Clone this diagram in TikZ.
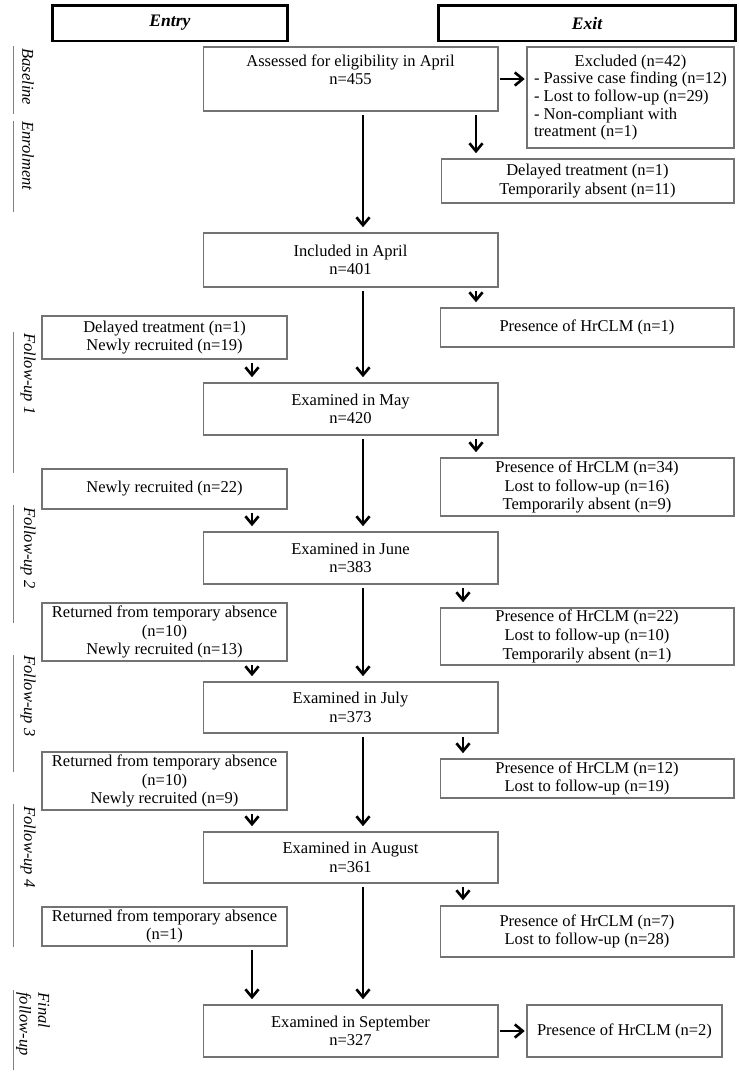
\documentclass[tikz,border=0pt]{standalone}
\usepackage{fontspec}
\usepackage{calc}
\setmainfont{Liberation Serif}
\usetikzlibrary{arrows.meta}
\newcommand{\boxsize}{\fontsize{9.4}{10.6}\selectfont}
\tikzset{
  stage/.style = {rectangle, draw=black!55, line width=0.6pt, align=center, inner sep=1pt, font=\boxsize, minimum width=5.9cm},
  inbox/.style = {stage, minimum width=4.9cm},
  outbox/.style = {stage, minimum width=5.88cm},
  header/.style = {rectangle, draw, line width=1.7pt, font=\fontsize{10}{12}\selectfont\bfseries\itshape, minimum height=0.72cm},
  phase/.style = {rotate=-90, anchor=west, font=\boxsize\itshape, inner sep=0pt, align=left},
  flow/.style = {-{Straight Barb[length=4.5pt,width=7.5pt]}, line width=1.5pt, shorten <=2pt, shorten >=3pt},
  sideflow/.style = {flow, shorten <=1pt, shorten >=1pt},
  bar/.style = {draw=black!50, line width=0.5pt}
}

\begin{document}
\begin{tikzpicture}[x=0.02cm, y=-0.02cm]
\useasboundingbox (0,0) rectangle (739,1073);

% headers
\node[header, minimum width=4.72cm] (entryhead) at (170,23) {Entry};
\node[header, minimum width=5.96cm] (exithead) at (587,23) {Exit};

% main column
\node[stage, minimum height=1.28cm] (assessed) at (350.5,79) {Assessed for eligibility in April\\n=455\\\mbox{}};
\node[stage, minimum height=1.08cm] (april) at (350.5,260) {Included in April\\n=401};
\node[stage, minimum height=1.04cm] (may) at (350.5,409) {Examined in May\\n=420};
\node[stage, minimum height=1.04cm] (june) at (350.5,558) {Examined in June\\n=383};
\node[stage, minimum height=1.02cm] (july) at (350.5,707.5) {Examined in July\\n=373};
\node[stage, minimum height=1.02cm] (august) at (350.5,857.5) {Examined in August\\n=361};
\node[stage, minimum height=1.04cm] (september) at (350.5,1031) {Examined in September\\n=327};

% exit column
\node[stage, minimum width=4.14cm, minimum height=2.02cm, align=left,
  font=\fontsize{9.4}{10}\selectfont] (excluded) at (630.5,97.5)
  {\makebox[\widthof{- Passive case finding (n=12)}]{Excluded (n=42)}\\- Passive case finding (n=12)\\- Lost to follow-up (n=29)\\- Non-compliant with\\treatment (n=1)};
\node[outbox, minimum width=5.86cm, minimum height=0.88cm] (delayed) at (587.5,181) {Delayed treatment (n=1)\\Temporarily absent (n=11)};
\node[outbox, minimum height=0.78cm] (hr1) at (587,327.5) {Presence of HrCLM (n=1)};
\node[outbox, minimum height=1.16cm] (hr2) at (587,487) {Presence of HrCLM (n=34)\\Lost to follow-up (n=16)\\Temporarily absent (n=9)};
\node[outbox, minimum height=1.14cm] (hr3) at (587,636.5) {Presence of HrCLM (n=22)\\Lost to follow-up (n=10)\\Temporarily absent (n=1)};
\node[outbox, minimum height=0.78cm] (hr4) at (587,778.5) {Presence of HrCLM (n=12)\\Lost to follow-up (n=19)};
\node[outbox, minimum height=1.02cm] (hr5) at (587,931.5) {Presence of HrCLM (n=7)\\Lost to follow-up (n=28)};
\node[stage, minimum width=3.9cm, minimum height=1.04cm] (hr6) at (624.5,1031) {Presence of HrCLM (n=2)};

% entry column
\node[inbox, minimum height=0.86cm] (new1) at (164.5,337.5) {Delayed treatment (n=1)\\Newly recruited (n=19)};
\node[inbox, minimum height=0.8cm] (new2) at (164.5,489) {Newly recruited (n=22)};
\node[inbox, minimum height=1.16cm] (new3) at (164.5,632) {Returned from temporary absence\\(n=10)\\Newly recruited (n=13)};
\node[inbox, minimum height=1.16cm] (new4) at (164.5,781) {Returned from temporary absence\\(n=10)\\Newly recruited (n=9)};
\node[inbox, minimum height=0.78cm] (new5) at (164.5,926.5) {Returned from temporary absence\\(n=1)};

% arrow columns
\coordinate (main) at (363,0);
\coordinate (outA) at (476,0);
\coordinate (outB) at (463,0);
\coordinate (inA) at (252,0);

\draw[flow] (assessed.south -| main) -- (april.north -| main);
\draw[flow] (april.south -| main) -- (may.north -| main);
\draw[flow] (may.south -| main) -- (june.north -| main);
\draw[flow] (june.south -| main) -- (july.north -| main);
\draw[flow] (july.south -| main) -- (august.north -| main);
\draw[flow] (august.south -| main) -- (september.north -| main);

\draw[flow] (assessed.south -| outA) -- (delayed.north -| outA);
\draw[flow] (april.south -| outA) -- (hr1.north -| outA);
\draw[flow] (may.south -| outA) -- (hr2.north -| outA);
\draw[flow] (june.south -| outB) -- (hr3.north -| outB);
\draw[flow] (july.south -| outB) -- (hr4.north -| outB);
\draw[flow] (august.south -| outB) -- (hr5.north -| outB);
\draw[sideflow] (assessed.east) -- (assessed.east -| excluded.west);
\draw[sideflow] (september.east) -- (hr6.west);

\draw[flow] (new1.south -| inA) -- (may.north -| inA);
\draw[flow] (new2.south -| inA) -- (june.north -| inA);
\draw[flow] (new3.south -| inA) -- (july.north -| inA);
\draw[flow] (new4.south -| inA) -- (august.north -| inA);
\draw[flow] (new5.south -| inA) -- (september.north -| inA);

% phases
\draw[bar] (13,46) -- (13,114);
\node[phase] (baseline) at (28,48) {Baseline};
\draw[bar] (13,121) -- (13,212);
\node[phase] (enrolment) at (28,121) {Enrolment};
\draw[bar] (13,332) -- (13,473);
\node[phase] (fu1) at (28,333) {Follow-up 1};
\draw[bar] (13,505) -- (13,623);
\node[phase] (fu2) at (28,507) {Follow-up 2};
\draw[bar] (13,655) -- (13,772);
\node[phase] (fu3) at (28,655) {Follow-up 3};
\draw[bar] (13,804) -- (13,947);
\node[phase] (fu4) at (28,806) {Follow-up 4};
\draw[bar] (13,990) -- (13,1070);
\node[phase] (final) at (33,992) {Final\\follow-up};

\end{tikzpicture}
\end{document}
